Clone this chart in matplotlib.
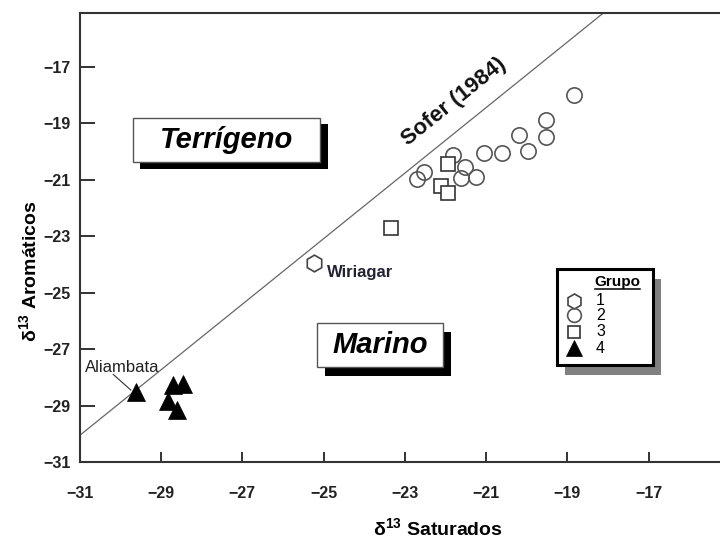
import numpy as np
import matplotlib.pyplot as plt
import matplotlib.transforms as mtransforms
from matplotlib.patches import Rectangle

plt.rcParams["font.family"] = ["Liberation Sans", "DejaVu Sans"]
plt.rcParams["mathtext.fontset"] = "custom"
plt.rcParams["mathtext.rm"] = "Liberation Sans"
plt.rcParams["mathtext.bf"] = "Liberation Sans:bold"

# d13C saturados / aromaticos por grupo
sat_g1 = [-25.24]
aro_g1 = [-23.94]

sat_g2 = [-18.83, -19.53, -19.53, -20.20, -19.96, -20.60, -21.05,
          -21.81, -21.52, -21.26, -21.63, -22.52, -22.70]
aro_g2 = [-18.01, -18.90, -19.49, -19.43, -19.97, -20.06, -20.05,
          -20.14, -20.56, -20.91, -20.95, -20.74, -20.98]

sat_g3 = [-21.93, -22.12, -21.93, -23.33]
aro_g3 = [-20.44, -21.21, -21.47, -22.72]

# primer punto = Aliambata
sat_g4 = [-29.62, -28.72, -28.46, -28.83, -28.62]
aro_g4 = [-28.52, -28.27, -28.25, -28.84, -29.16]

# linea de Sofer (1984)
sofer_slope = 1.16
sofer_intercept = 5.91

grupos = ["1", "2", "3", "4"]
ticks = [-31, -29, -27, -25, -23, -21, -19, -17]

estilos = {
    "1": dict(marker="h", ms=12, mfc="white", mec="#444444", mew=1.2),
    "2": dict(marker="o", ms=11, mfc="none", mec="#555555", mew=1.2),
    "3": dict(marker="s", ms=10, mfc="white", mec="#333333", mew=1.2),
    "4": dict(marker="^", ms=13, mfc="black", mec="black", mew=0.5),
}
datos = {"1": (sat_g1, aro_g1), "2": (sat_g2, aro_g2),
         "3": (sat_g3, aro_g3), "4": (sat_g4, aro_g4)}

fig = plt.figure(figsize=(7.2, 5.39), dpi=100)
ax = fig.add_axes([80 / 720, 77 / 539, 640 / 720, 449 / 539])
ax.set_xlim(-31, -15.24)
ax.set_ylim(-31, -15.1)

xs = np.array([-31, -15])
ax.plot(xs, sofer_slope * xs + sofer_intercept, color="#666666", lw=0.9, zorder=1)

for g in grupos:
    sx, sy = datos[g]
    ax.plot(sx, sy, ls="none", zorder=3, **estilos[g])

ax.text(-21.80, -18.25, "Sofer (1984)", fontsize=16, fontweight="bold",
        rotation=np.degrees(np.arctan(sofer_slope)), transform_rotates_text=True,
        rotation_mode="anchor", ha="center", va="center", color="#111111")

ax.text(-24.91, -24.45, "Wiriagar", fontsize=12, fontweight="bold",
        ha="left", va="baseline", color="#222233")
ax.text(-30.88, -27.83, "Aliambata", fontsize=12,
        ha="left", va="baseline", color="#222222")
ax.plot([-30.18, -29.75], [-27.90, -28.45], color="#444444", lw=0.9, zorder=2)


def caja(x, y, w, h, texto, dx, dy):
    sombra = mtransforms.offset_copy(ax.transAxes, fig=fig, x=dx, y=-dy, units="dots")
    ax.add_patch(Rectangle((x, y), w, h, transform=sombra, fc="black", ec="black",
                           lw=0, zorder=4, clip_on=False))
    ax.add_patch(Rectangle((x, y), w, h, transform=ax.transAxes, fc="white",
                           ec="#555555", lw=1.0, zorder=5, clip_on=False))
    ax.text(x + w / 2, y + h / 2, texto, transform=ax.transAxes, fontsize=21,
            fontweight="bold", fontstyle="italic", ha="center", va="center", zorder=6)


caja(0.0823, 0.6675, 0.2927, 0.0993, "Terrígeno", 7.5, 6.5)
caja(0.3708, 0.2122, 0.1969, 0.0980, "Marino", 7.5, 9)

# leyenda
lx, ly, lw_, lh = 0.7458, 0.216, 0.150, 0.2131
sombra = mtransforms.offset_copy(ax.transAxes, fig=fig, x=7.5, y=-10, units="dots")
ax.add_patch(Rectangle((lx, ly), lw_, lh, transform=sombra, fc="#808080", lw=0,
                       zorder=7, clip_on=False))
ax.add_patch(Rectangle((lx, ly), lw_, lh, transform=ax.transAxes, fc="white",
                       ec="black", lw=2.2, zorder=8, clip_on=False))
ax.text(0.8398, 0.3998, "Grupo", transform=ax.transAxes, fontsize=11,
        fontweight="bold", ha="center", va="center", zorder=9)
ax.plot([0.8047, 0.8750], [0.3853, 0.3853], transform=ax.transAxes,
        color="black", lw=1.1, zorder=9, clip_on=False)
filas = [0.3592, 0.3263, 0.2902, 0.2532]
for g, fy in zip(grupos, filas):
    est = dict(estilos[g])
    est["ms"] = est["ms"] * 0.9
    ax.plot([0.7723], [fy], transform=ax.transAxes, ls="none", zorder=9,
            clip_on=False, **est)
    ax.text(0.8063, fy, g, transform=ax.transAxes, fontsize=11.5,
            ha="left", va="center", zorder=9)

ax.set_xticks(ticks)
ax.set_yticks(ticks)
ax.tick_params(axis="x", direction="in", length=7, width=1.3, pad=17,
               labelsize=11.5, colors="#222222")
ax.tick_params(axis="y", direction="in", length=11, width=1.3, pad=7,
               labelsize=11.5, colors="#222222")
plt.setp(ax.get_xticklabels() + ax.get_yticklabels(), fontweight="bold")

for s in ["top", "left", "bottom"]:
    ax.spines[s].set_linewidth(1.5)
    ax.spines[s].set_color("#333333")
ax.spines["right"].set_visible(False)

ax.set_xlabel(r"δ$^{\mathbf{13}}$ Saturados", fontsize=14, fontweight="bold")
ax.xaxis.set_label_coords(0.5586, -0.124)
ax.set_ylabel(r"δ$^{\mathbf{13}}$ Aromáticos", fontsize=14, fontweight="bold")
ax.yaxis.set_label_coords(-0.061, 0.4254)

fig.savefig("out.png", dpi=100)
